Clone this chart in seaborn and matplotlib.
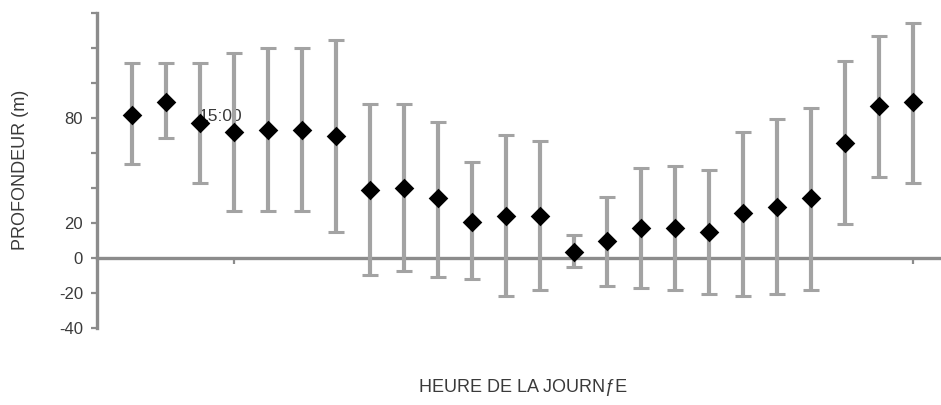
import matplotlib
matplotlib.use("Agg")
import matplotlib.pyplot as plt
import seaborn as sns
import pandas as pd
import numpy as np

sns.set_style("white")
plt.rcParams["font.family"] = ["Liberation Sans", "DejaVu Sans"]

# Hour of day (0-23) and mean depth with lower / upper error-bar limits (m)
heures = [0, 1, 2, 3, 4, 5, 6, 7, 8, 9, 10, 11,
          12, 13, 14, 15, 16, 17, 18, 19, 20, 21, 22, 23]
profondeur = [81.5, 89.3, 77.0, 71.8, 73.1, 73.1, 69.7, 38.9, 40.2, 34.1, 20.8, 24.2,
              24.2, 3.6, 9.9, 17.0, 17.0, 14.7, 25.5, 29.1, 34.1, 65.9, 86.7, 89.1]
borne_haute = [111.6, 111.6, 111.6, 117.3, 119.8, 119.8, 124.6, 87.8, 87.8, 77.9, 54.7, 70.5,
               67.0, 13.1, 35.0, 51.2, 52.6, 50.1, 72.0, 79.4, 85.5, 112.4, 127.0, 134.3]
borne_basse = [53.9, 68.8, 43.0, 27.0, 27.0, 27.0, 14.7, -9.9, -7.2, -11.0, -12.2, -21.9,
               -18.3, -5.0, -15.8, -17.1, -18.3, -20.8, -21.9, -20.8, -18.3, 19.4, 46.5, 42.9]

y_ticks = [-40, -20, 0, 20, 40, 60, 80, 100, 120, 140]
y_tick_labels = ["-40", "-20", "0", "20", "", "", "80", "", "", ""]
x_ticks = [3, 7, 11, 15, 19, 23]

df = pd.DataFrame({"heure": heures, "prof": profondeur,
                   "haut": borne_haute, "bas": borne_basse})

W, H = 941, 405
fig = plt.figure(figsize=(W / 100, H / 100), dpi=100)
ax = fig.add_axes([97 / W, 77 / H, (W - 97) / W, (328 - 13) / H])

axis_grey = "#8c8c8c"
text_grey = "#3a3a3a"

# error bars
yerr = np.vstack([df["prof"] - df["bas"], df["haut"] - df["prof"]])
ax.errorbar(df["heure"], df["prof"], yerr=yerr, fmt="none",
            ecolor="#a3a3a3", elinewidth=3, capsize=6, capthick=2.2, zorder=2)

# mean depth markers
sns.scatterplot(data=df, x="heure", y="prof", marker="D", s=100,
                color="black", edgecolor="black", linewidth=0, ax=ax, zorder=3)

ax.set_xlim(-1.03, 23.82)
ax.set_ylim(-40, 140)

for side in ("top", "right"):
    ax.spines[side].set_visible(False)
ax.spines["bottom"].set_position(("data", 0))
for side in ("left", "bottom"):
    ax.spines[side].set_color(axis_grey)
    ax.spines[side].set_linewidth(2.4)
    ax.spines[side].set_zorder(1)

ax.set_yticks(y_ticks)
ax.set_yticklabels(y_tick_labels)
ax.set_xticks(x_ticks)
ax.set_xticklabels([])
ax.tick_params(axis="y", direction="out", length=4, width=1.6, color=axis_grey,
               labelsize=12, labelcolor=text_grey, pad=6, left=True)
ax.tick_params(axis="x", direction="out", length=4, width=1.6, color=axis_grey,
               bottom=True)

ax.set_xlabel("")
ax.set_ylabel("")
fig.text(21 / W, 1 - 170 / H, "PROFONDEUR (m)", rotation=90, ha="center",
         va="center", fontsize=13, color=text_grey)
fig.text(523 / W, 1 - 388 / H, "HEURE DE LA JOURN\u0192E", ha="center",
         va="center", fontsize=13, color=text_grey)
ax.text(2.6, 81.0, "15:00", ha="center", va="center", fontsize=12.5,
        color=text_grey, zorder=1)

fig.savefig("out.png", dpi=100)
